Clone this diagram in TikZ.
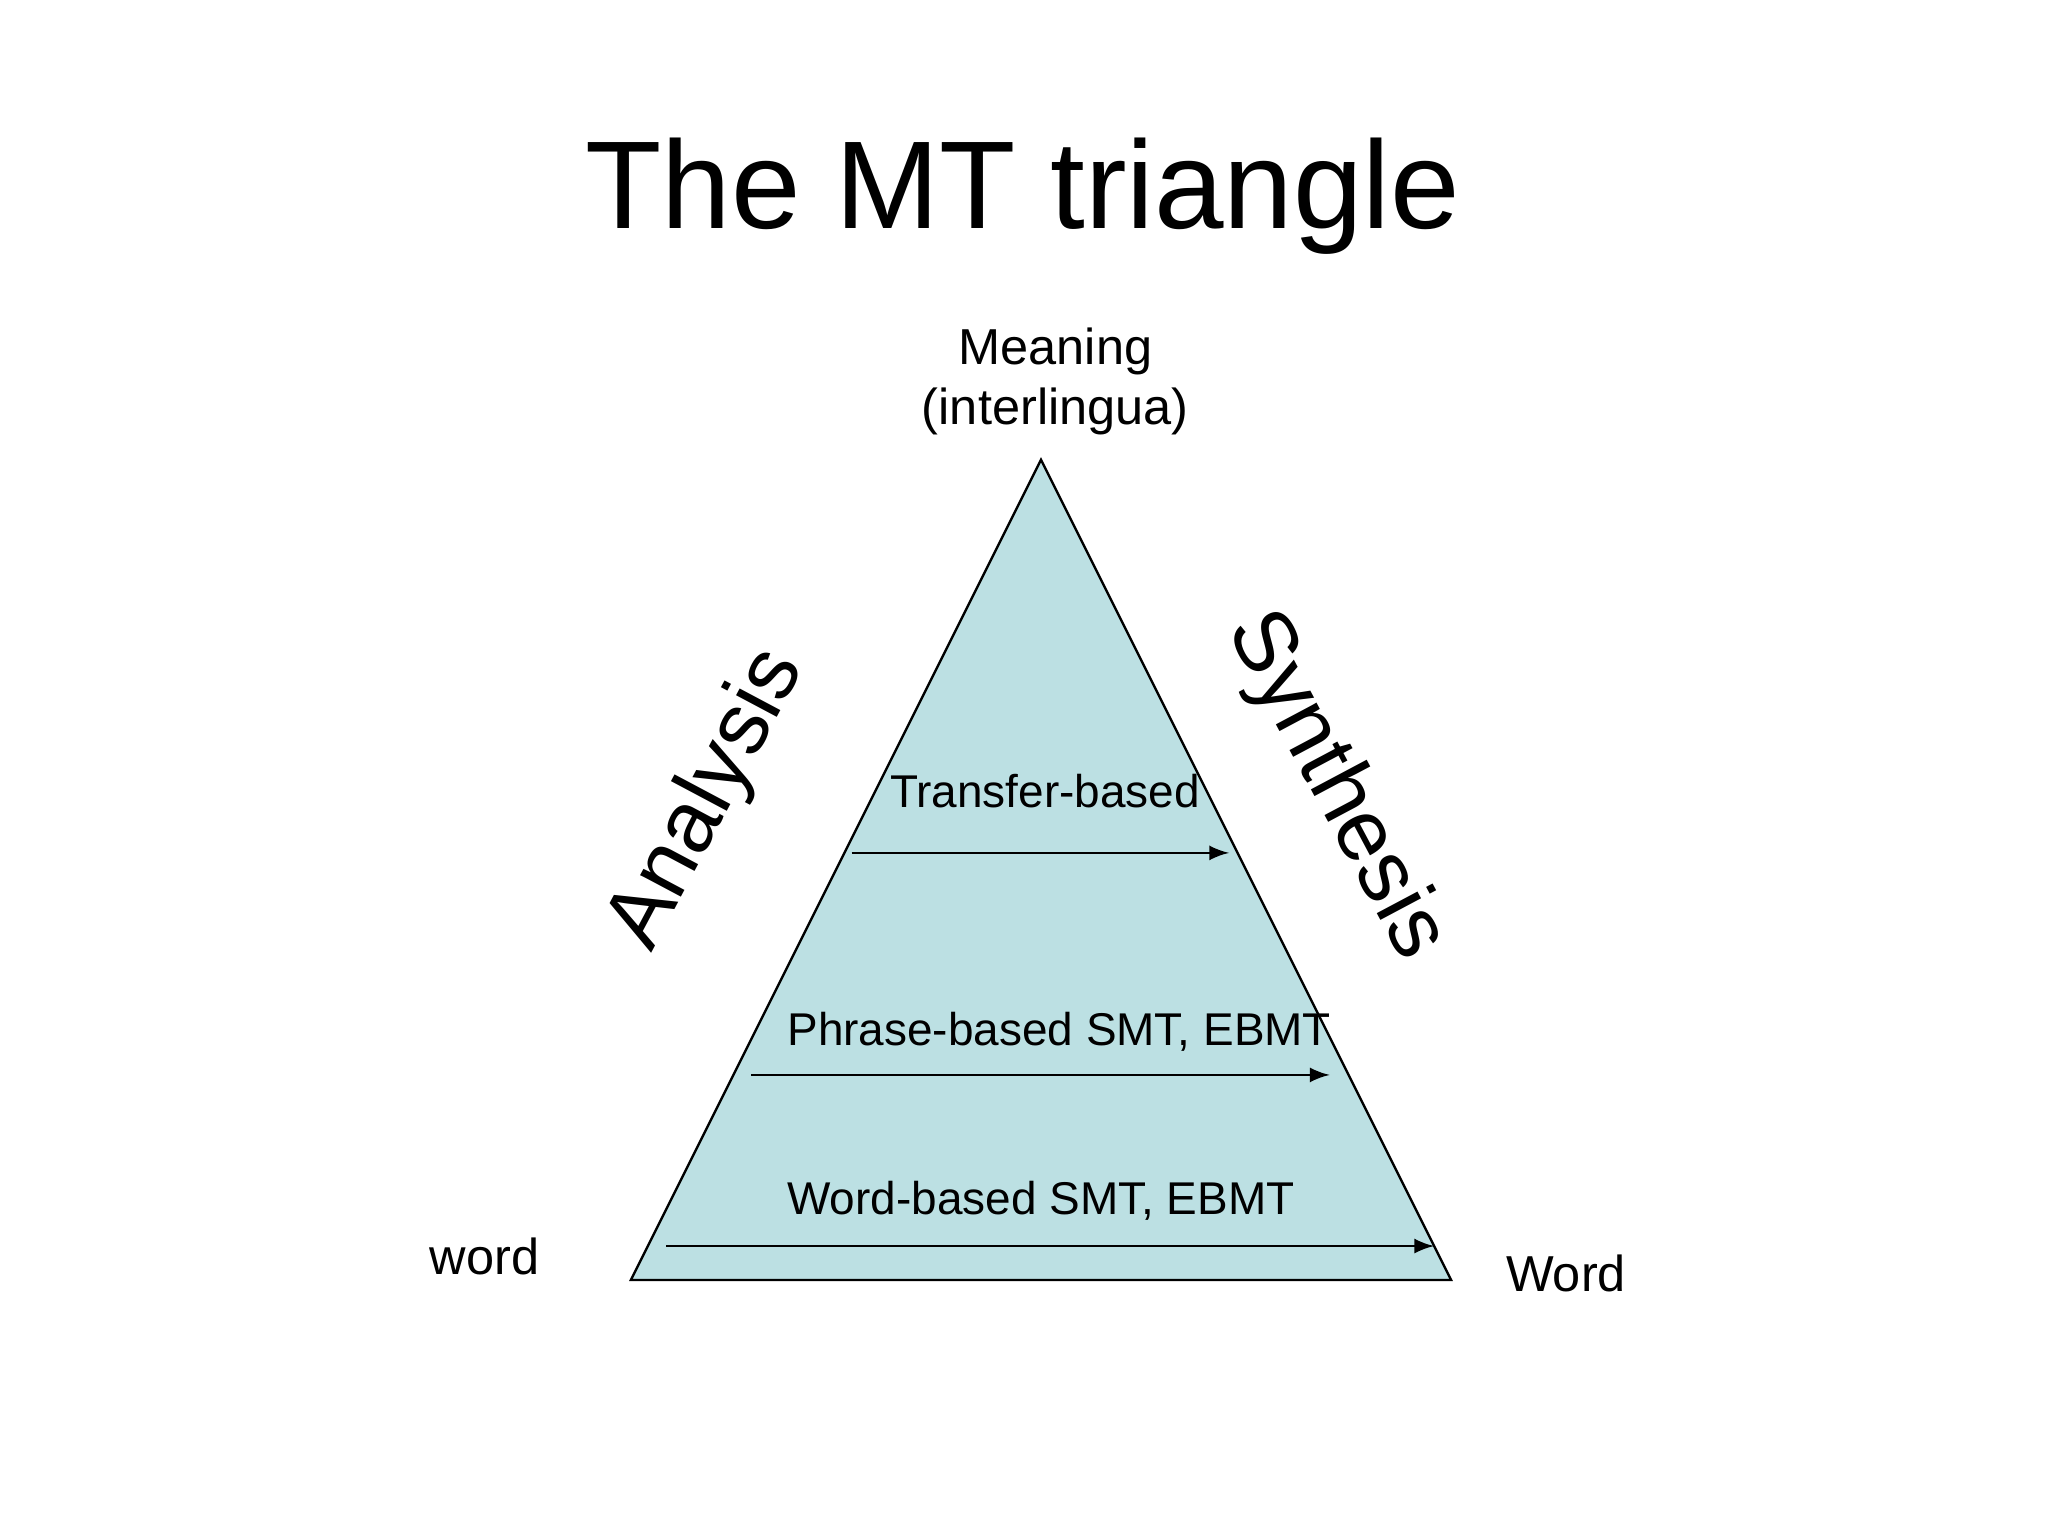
\documentclass[tikz,border=0pt]{standalone}
\usepackage{fontspec}
\setmainfont{Liberation Sans}
\definecolor{tri}{HTML}{BCE0E3}
\begin{document}
\begin{tikzpicture}[x=0.01cm,y=-0.01cm,
  lbl/.style={inner sep=0pt,font=\fontsize{11}{13}\selectfont},
  inl/.style={inner sep=0pt,font=\fontsize{10}{12}\selectfont},
  arr/.style={-latex,line width=0.5pt}]
\useasboundingbox (0,0) rectangle (1568,1176);
\node[inner sep=0pt,font=\fontsize{27.2}{32}\selectfont] (title) at (783,150) {The MT triangle};
\coordinate (A) at (797,352);
\coordinate (B) at (483,980);
\coordinate (C) at (1111,980);
\filldraw[fill=tri,draw=black,line width=0.5pt] (A) -- (B) -- (C) -- cycle;
\node[lbl,align=center] (mean) at (808,292) {Meaning\\ (interlingua)};
\node[inl] (t) at (800,606) {Transfer-based};
\node[inl] (p) at (811,790) {Phrase-based SMT, EBMT};
\node[inl] (w) at (797,919) {Word-based SMT, EBMT};
\coordinate (a1) at (652,653); \coordinate (a2) at (941,653);
\coordinate (b1) at (575,823); \coordinate (b2) at (1018,823);
\coordinate (c1) at (510,954); \coordinate (c2) at (1098,954);
\draw[arr] (a1) -- (a2);
\draw[arr] (b1) -- (b2);
\draw[arr] (c1) -- (c2);
\node[lbl] (wl) at (371,962) {word};
\node[lbl] (wr) at (1199,975) {Word};
\node[inner sep=0pt,rotate=62,font=\fontsize{19}{22}\selectfont] (an) at (542,612) {Analysis};
\node[inner sep=0pt,rotate=-62,font=\fontsize{19}{22}\selectfont] (sy) at (1022,602) {Synthesis};
\end{tikzpicture}
\end{document}
